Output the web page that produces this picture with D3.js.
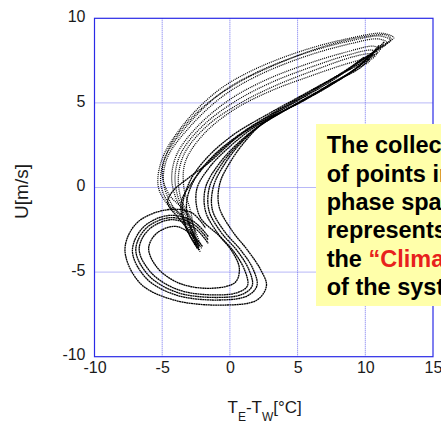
<!DOCTYPE html>
<html lang="en">
<head>
<meta charset="UTF-8">
<title>Climate attractor</title>
<script src="https://cdn.jsdelivr.net/npm/d3@7"></script>
<style>
  body { margin: 0; background: #fff; }
  text { font-family: "Liberation Sans", Arial, Helvetica, sans-serif; }
</style>
</head>
<body>
<script>
// axis ticks
var xTicks = [-10, -5, 0, 5, 10, 15];
var yTicks = [-10, -5, 0, 5, 10];

// strands, [T_E-T_W, U]
// upper band (fast, sparse dots) going up to the tip
var u1 = [[-2.4,-3.6],[-3.3,-2.0],[-4.7,-0.9],[-5.3,0.1],[-5.0,1.7],[-3.45,3.7],[-0.99,5.66],[1.47,6.85],[5.15,8.03],[8.84,8.82],[11.3,9.11],[12.1,8.85],[11.4,8.45],[9.9,7.6]];
var u7 = [[-2.3,-3.5],[-3.2,-1.9],[-4.5,-0.95],[-5.1,0.2],[-4.8,1.75],[-3.2,3.62],[-0.8,5.5],[1.7,6.7],[5.3,7.87],[8.87,8.66],[11.15,8.95],[11.85,8.7],[11.0,8.2],[9.6,7.45]];
var u2 = [[-2.2,-3.8],[-3.0,-2.2],[-4.3,-1.0],[-4.9,0.3],[-4.6,1.8],[-3.0,3.55],[-0.6,5.35],[1.9,6.55],[5.4,7.7],[8.9,8.5],[11.0,8.78],[11.6,8.55],[10.6,7.95],[9.3,7.35]];
var u3 = [[-2.6,-3.4],[-3.2,-1.8],[-4.0,-0.6],[-4.3,0.6],[-3.9,2.0],[-2.4,3.6],[-0.1,5.15],[2.5,6.3],[5.7,7.3],[8.8,8.05],[10.6,8.35],[11.1,8.15],[10.0,7.55]];
var u8 = [[-2.45,-3.55],[-3.0,-1.9],[-3.8,-0.65],[-4.05,0.65],[-3.6,2.05],[-2.0,3.65],[0.35,5.07],[2.9,6.15],[6.0,7.12],[8.9,7.87],[10.5,8.12],[10.9,7.95],[9.85,7.42]];
var u4 = [[-2.3,-3.7],[-2.8,-2.0],[-3.6,-0.7],[-3.8,0.7],[-3.3,2.1],[-1.6,3.7],[0.8,5.0],[3.3,6.0],[6.3,6.95],[9.0,7.7],[10.4,7.9],[10.7,7.75],[9.7,7.3]];
var u5 = [[-2.5,-3.3],[-2.9,-1.4],[-3.4,0.0],[-3.3,1.5],[-2.0,3.1],[0.3,4.6],[3.0,5.7],[6.0,6.6],[8.8,7.35],[10.2,7.6],[10.3,7.45],[9.4,7.1]];
var u6 = [[-2.1,-3.6],[-3.1,-1.6],[-4.5,-0.4],[-5.0,0.9],[-4.3,2.6],[-2.2,4.6],[0.4,6.1],[3.2,7.2],[6.8,8.3],[9.8,8.9],[11.6,9.0],[11.9,8.75],[10.9,8.2]];

// return arm, lower strands: down the right side and round the bottom
var r1 = [[11.0,8.4],[9.82,7.2],[7.61,6.2],[5.15,5.0],[2.7,4.0],[1.22,2.82],[0.1,1.6],[-0.74,0.25],[-0.8,-1.13],[0.2,-2.6],[1.3,-3.7],[2.3,-4.9],[2.7,-5.8],[2.0,-6.65],[-0.5,-6.95],[-4.19,-6.64],[-6.64,-5.65],[-7.75,-3.69],[-6.89,-2.11],[-4.68,-1.32],[-2.8,-1.5],[-1.8,-2.4]];
var r2 = [[10.8,8.2],[9.5,7.15],[7.3,6.05],[4.9,4.95],[2.4,3.75],[0.9,2.7],[-0.3,1.5],[-1.2,0.1],[-1.3,-1.3],[-0.4,-2.6],[0.8,-3.7],[1.7,-4.8],[2.0,-5.8],[1.3,-6.4],[-0.8,-6.65],[-4.0,-6.35],[-6.2,-5.35],[-7.2,-3.75],[-6.4,-2.35],[-4.5,-1.65],[-2.7,-2.0],[-1.6,-2.9]];
var r5 = [[10.65,8.05],[9.35,7.05],[7.15,5.95],[4.75,4.87],[2.25,3.67],[0.7,2.62],[-0.55,1.45],[-1.5,0.05],[-1.55,-1.35],[-0.65,-2.65],[0.55,-3.75],[1.4,-4.85],[1.65,-5.8],[0.95,-6.3],[-0.95,-6.5],[-3.9,-6.2],[-6.0,-5.2],[-6.95,-3.7],[-6.2,-2.42],[-4.4,-1.78],[-2.65,-2.2],[-1.6,-3.1]];
var r3 = [[10.5,7.9],[9.2,6.95],[7.0,5.85],[4.6,4.8],[2.1,3.6],[0.5,2.55],[-0.8,1.4],[-1.8,0.0],[-1.8,-1.4],[-0.9,-2.7],[0.3,-3.8],[1.1,-4.9],[1.3,-5.8],[0.6,-6.2],[-1.1,-6.35],[-3.8,-6.05],[-5.8,-5.05],[-6.7,-3.65],[-6.0,-2.5],[-4.3,-1.9],[-2.6,-2.4],[-1.6,-3.3]];
var r4 = [[10.2,7.6],[8.8,6.75],[6.5,5.6],[4.0,4.55],[1.6,3.45],[-0.1,2.35],[-1.5,1.2],[-2.46,-0.14],[-2.22,-1.72],[-0.74,-2.9],[0.24,-3.88],[0.7,-4.8],[0.4,-5.6],[-1.2,-5.95],[-3.6,-5.7],[-5.3,-4.8],[-6.0,-3.6],[-5.4,-2.7],[-4.0,-2.3],[-2.8,-2.8],[-2.0,-3.5]];

// return arm, upper strands: straight into the centre column
var m1 = [[11.4,8.6],[9.82,7.44],[7.61,6.46],[5.15,5.37],[2.7,4.29],[0.24,3.11],[-1.73,1.73],[-3.0,0.3],[-3.5,-1.2],[-3.1,-2.6],[-2.4,-3.6]];
var m2 = [[10.6,8.0],[8.8,7.0],[6.2,5.8],[3.6,4.6],[1.0,3.3],[-1.2,1.9],[-2.6,0.5],[-3.2,-0.9],[-2.9,-2.4],[-2.2,-3.5]];
var m3 = [[9.9,7.7],[7.9,6.5],[5.6,5.4],[3.0,4.2],[0.6,3.0],[-1.5,1.5],[-3.0,0.6],[-4.2,-0.2],[-4.6,-0.9],[-3.8,-1.8],[-2.8,-2.8],[-2.3,-3.7]];
var m4 = [[10.2,7.8],[8.3,6.8],[5.9,5.6],[3.3,4.4],[0.8,3.15],[-1.35,1.7],[-2.8,0.3],[-3.6,-0.9],[-3.3,-2.3],[-2.5,-3.4]];

// spiral rings round the lower focus (closed)
var s0 = [[-3.0,-3.5],[-2.5,-3.25],[-1.9,-3.4],[-1.8,-3.8],[-2.3,-4.0],[-2.9,-3.9]];
var s1 = [[-3.69,-3.7],[-3.2,-3.15],[-2.3,-3.1],[-1.6,-3.5],[-1.48,-4.0],[-2.0,-4.4],[-2.9,-4.45],[-3.5,-4.15]];
var s1b = [[-4.05,-3.7],[-3.5,-2.95],[-2.45,-2.8],[-1.45,-3.25],[-1.1,-3.95],[-1.6,-4.55],[-2.7,-4.7],[-3.65,-4.4]];
var s2 = [[-4.43,-3.7],[-3.8,-2.75],[-2.6,-2.5],[-1.3,-3.0],[-0.74,-3.9],[-1.2,-4.7],[-2.5,-4.97],[-3.8,-4.6]];
var s2b = [[-4.9,-3.7],[-4.2,-2.55],[-2.8,-2.3],[-1.25,-2.75],[-0.37,-3.85],[-0.8,-4.85],[-2.35,-5.2],[-4.1,-4.85]];
var s3 = [[-5.41,-3.7],[-4.6,-2.4],[-3.0,-2.09],[-1.2,-2.5],[0.0,-3.8],[-0.4,-5.0],[-2.2,-5.46],[-4.4,-5.1]];
var s3b = [[-5.9,-3.7],[-5.0,-2.3],[-3.2,-1.95],[-1.1,-2.4],[0.3,-3.7],[0.3,-5.0],[-1.6,-5.7],[-4.3,-5.45],[-5.6,-4.7]];
var s4 = [[-6.4,-3.7],[-5.4,-2.2],[-3.4,-1.8],[-1.0,-2.3],[0.6,-3.6],[0.9,-5.0],[-1.0,-5.9],[-4.2,-5.8],[-5.9,-4.9]];
var s4b = [[-6.8,-3.7],[-5.75,-2.1],[-3.55,-1.7],[-1.05,-2.2],[0.7,-3.55],[1.25,-5.1],[-0.4,-6.1],[-3.6,-6.1],[-5.9,-5.2]];
var s5 = [[-7.14,-3.7],[-6.1,-2.0],[-3.7,-1.6],[-1.1,-2.1],[0.8,-3.5],[1.6,-5.2],[0.2,-6.3],[-3.0,-6.44],[-5.9,-5.5]];
var s5b = [[-7.35,-3.65],[-6.3,-1.95],[-3.85,-1.5],[-1.25,-2.0],[0.75,-3.35],[1.9,-5.25],[0.6,-6.4],[-2.75,-6.6],[-6.0,-5.7]];
var s6 = [[-7.5,-3.6],[-6.5,-1.9],[-4.0,-1.45],[-1.4,-1.9],[0.7,-3.2],[2.2,-5.3],[1.0,-6.5],[-2.5,-6.75],[-6.1,-5.9]];

var boxLines = ["The collection", "of points in", "phase space", "represents", "the ", "of the system"];

var w = 441, h = 423;

var svg = d3.select("body").append("svg")
    .attr("width", w)
    .attr("height", h);

var x = d3.scaleLinear().domain([-10, 15]).range([94.5, 433]);
var y = d3.scaleLinear().domain([-10, 10]).range([356.7, 18.3]);

// grid
svg.selectAll("line.gx")
    .data(xTicks.slice(1, -1))
    .enter().append("line")
    .attr("class", "gx")
    .attr("x1", function(d) { return x(d) }).attr("x2", function(d) { return x(d) })
    .attr("y1", y(10)).attr("y2", y(-10))
    .attr("stroke", "#7070ee").attr("stroke-width", 1)
    .attr("stroke-dasharray", "1,1");

svg.selectAll("line.gy")
    .data(yTicks.slice(1, -1))
    .enter().append("line")
    .attr("class", "gy")
    .attr("y1", function(d) { return y(d) }).attr("y2", function(d) { return y(d) })
    .attr("x1", x(-10)).attr("x2", x(15))
    .attr("stroke", "#7070ee").attr("stroke-width", 1)
    .attr("stroke-dasharray", "1,1");

var open = d3.line()
    .x(function(d) { return x(d[0]) })
    .y(function(d) { return y(d[1]) })
    .curve(d3.curveCatmullRom.alpha(0.5));

var closed = d3.line()
    .x(function(d) { return x(d[0]) })
    .y(function(d) { return y(d[1]) })
    .curve(d3.curveCatmullRomClosed.alpha(0.5));

var g = svg.append("g");

g.selectAll("path.up")
    .data([u1, u7, u2, u3, u8, u4, u5, u6])
    .enter().append("path")
    .attr("class", "up")
    .attr("d", open)
    .attr("fill", "none")
    .attr("stroke", "#000")
    .attr("stroke-width", 1.25)
    .attr("stroke-dasharray", "1,1");

g.selectAll("path.ret")
    .data([r1, r2, r5, r3, r4, m1, m2, m3, m4])
    .enter().append("path")
    .attr("class", "ret")
    .attr("d", open)
    .attr("fill", "none")
    .attr("stroke", "#000")
    .attr("stroke-width", 1.3)
    .attr("stroke-dasharray", "2,0.4");

g.selectAll("path.ring")
    .data([s0, s1, s1b, s2, s2b, s3, s3b, s4, s4b, s5, s5b, s6])
    .enter().append("path")
    .attr("class", "ring")
    .attr("d", closed)
    .attr("fill", "none")
    .attr("stroke", "#000")
    .attr("stroke-width", 1.5)
    .attr("stroke-dasharray", "3,0.4");

// frame
svg.append("rect")
    .attr("x", x(-10)).attr("y", y(10))
    .attr("width", x(15) - x(-10)).attr("height", y(-10) - y(10))
    .attr("fill", "none")
    .attr("stroke", "#2a2ae6").attr("stroke-width", 1.2);

// axes
var fmt = function(d) { return String(d) };
var xAxis = svg.append("g")
    .attr("transform", "translate(0," + y(-10) + ")")
    .call(d3.axisBottom(x).tickValues(xTicks).tickSize(0).tickPadding(5).tickFormat(fmt));
var yAxis = svg.append("g")
    .attr("transform", "translate(" + x(-10) + ",0)")
    .call(d3.axisLeft(y).tickValues(yTicks).tickSize(0).tickPadding(9).tickFormat(fmt));

[xAxis, yAxis].forEach(function(a) {
    a.select(".domain").remove();
    a.selectAll("text")
        .style("font-family", '"Liberation Sans", Arial, sans-serif')
        .style("font-size", "16px")
        .attr("fill", "#1a1a1a");
});
yAxis.selectAll("text").attr("dy", "0.2em");

// axis titles
var xl = svg.append("text")
    .attr("x", 227.5).attr("y", 412.7)
    .style("font-size", "17px")
    .attr("fill", "#1a1a1a");
xl.append("tspan").text("T");
xl.append("tspan").attr("dy", 8.5).style("font-size", "12px").text("E");
xl.append("tspan").attr("dy", -8.5).text("-T");
xl.append("tspan").attr("dy", 8.5).style("font-size", "12px").text("W");
xl.append("tspan").attr("dy", -8.5).text("[°C]");

svg.append("text")
    .attr("transform", "translate(28,191.5) rotate(-90)")
    .attr("text-anchor", "middle")
    .style("font-size", "19px")
    .attr("fill", "#1a1a1a")
    .text("U[m/s]");

// note box
svg.append("rect")
    .attr("x", 316).attr("y", 124)
    .attr("width", 200).attr("height", 182)
    .attr("fill", "#ffffaa");

var note = svg.append("g");
boxLines.forEach(function(line, i) {
    var t = note.append("text")
        .attr("x", 326.7)
        .attr("y", 153.3 + i * 28.3)
        .style("font-size", "23.5px")
        .style("font-weight", "bold")
        .attr("fill", "#000")
        .text(line);
    if (i == 4) {
        t.append("tspan").attr("fill", "#e8211c").text("\u201cClimate\u201d");
    }
});
</script>
</body>
</html>
